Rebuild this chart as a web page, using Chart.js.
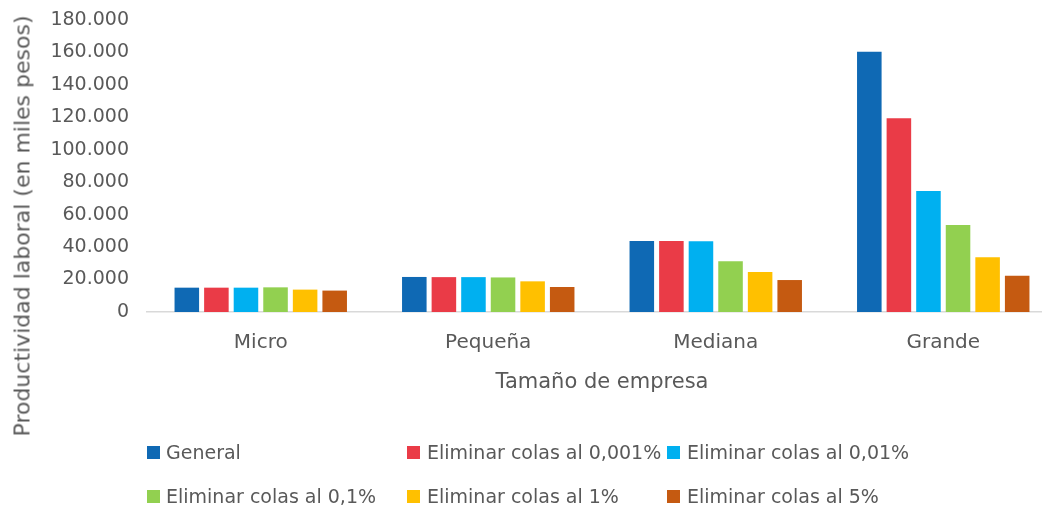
<!DOCTYPE html>
<html>
<head>
<meta charset="utf-8">
<script src="https://cdn.jsdelivr.net/npm/chart.js@4"></script>
<style>
  html, body { margin: 0; padding: 0; background: #fff; overflow: hidden; }
  #wrap { position: relative; width: 1060px; height: 508px; }
  #yTitle {
    position: absolute; left: 22px; top: 226px;
    transform: translate(-50%, -50%) rotate(-90deg);
    white-space: nowrap; font: 22px "DejaVu Sans"; color: #595959;
  }
  .leg { position: absolute; font: 19px "DejaVu Sans"; color: #595959; white-space: nowrap; }
  .leg span.box { position: absolute; width: 13px; height: 13px; top: -7px; }
  .leg span.txt { position: absolute; top: -13px; line-height: 24px; }
</style>
</head>
<body>
<div id="wrap">
  <canvas id="chart"></canvas>
  <div id="yTitle">Productividad laboral (en miles pesos)</div>
  <div id="legend"></div>
</div>
<script>
// categories and series (values in miles de pesos)
const categories = ['Micro', 'Pequeña', 'Mediana', 'Grande'];
const seriesNames = ['General', 'Eliminar colas al 0,001%', 'Eliminar colas al 0,01%',
                     'Eliminar colas al 0,1%', 'Eliminar colas al 1%', 'Eliminar colas al 5%'];
const general   = [15000, 21600, 43700, 160500];
const colas0001 = [15000, 21500, 43700, 119400];
const colas001  = [15000, 21500, 43600, 74600];
const colas01   = [15200, 21300, 31300, 53700];
const colas1    = [13800, 18900, 24600, 33800];
const colas5    = [13200, 15400, 19700, 22300];
const colors = ['#0F69B4', '#EA3B47', '#00B0F0', '#92D050', '#FFC000', '#C55A11'];
const yTicks = [0, 20000, 40000, 60000, 80000, 100000, 120000, 140000, 160000, 180000];

const allValues = [general, colas0001, colas001, colas01, colas1, colas5];
const textColor = '#595959';

function fmt(v) {
    return v === 0 ? '0' : v.toString().replace(/\B(?=(\d{3})+(?!\d))/g, '.');
}

const ctx = document.getElementById('chart').getContext('2d');
new Chart(ctx, {
    type: 'bar',
    data: {
        labels: categories,
        datasets: seriesNames.map((name, i) => ({
            label: name,
            data: allValues[i],
            backgroundColor: colors[i],
            categoryPercentage: 0.78,
            barPercentage: 0.83
        }))
    },
    options: {
        responsive: true,
        maintainAspectRatio: false,
        animation: false,
        layout: { padding: { left: 0, right: 3, top: 20, bottom: 108 } },
        plugins: { legend: { display: false }, tooltip: { enabled: false } },
        scales: {
            x: {
                grid: { display: false, drawTicks: false },
                border: { display: true, color: '#D9D9D9', width: 1.5 },
                ticks: { color: textColor, font: { family: 'DejaVu Sans', size: 20 }, padding: 19 },
                title: {
                    display: true, text: 'Tamaño de empresa', color: textColor,
                    font: { family: 'DejaVu Sans', size: 21 }, padding: { top: 0, bottom: 5 }
                },
                afterFit: scale => { scale.height = 88; }
            },
            y: {
                min: 0, max: 180000,
                grid: { display: false, drawTicks: false },
                border: { display: false },
                afterBuildTicks: scale => { scale.ticks = yTicks.map(v => ({ value: v })); },
                ticks: {
                    color: textColor, font: { family: 'DejaVu Sans', size: 19 }, padding: 18,
                    callback: v => fmt(v)
                },
                afterFit: scale => {
                    scale.width = 147;
                    scale.paddingTop = 0;
                    scale.paddingBottom = 0;
                }
            }
        }
    }
});

// legend laid out in fixed columns like the original
const legendPos = [[147, 453], [407, 453], [667, 453], [147, 497], [407, 497], [667, 497]];
const textOffset = [19, 20, 20, 19, 20, 20];
const legend = document.getElementById('legend');
seriesNames.forEach((name, i) => {
    const item = document.createElement('div');
    item.className = 'leg';
    item.style.left = legendPos[i][0] + 'px';
    item.style.top = legendPos[i][1] + 'px';
    item.innerHTML = '<span class="box" style="background:' + colors[i] + '"></span>' +
        '<span class="txt" style="left:' + textOffset[i] + 'px">' + name + '</span>';
    legend.appendChild(item);
});
</script>
</body>
</html>
